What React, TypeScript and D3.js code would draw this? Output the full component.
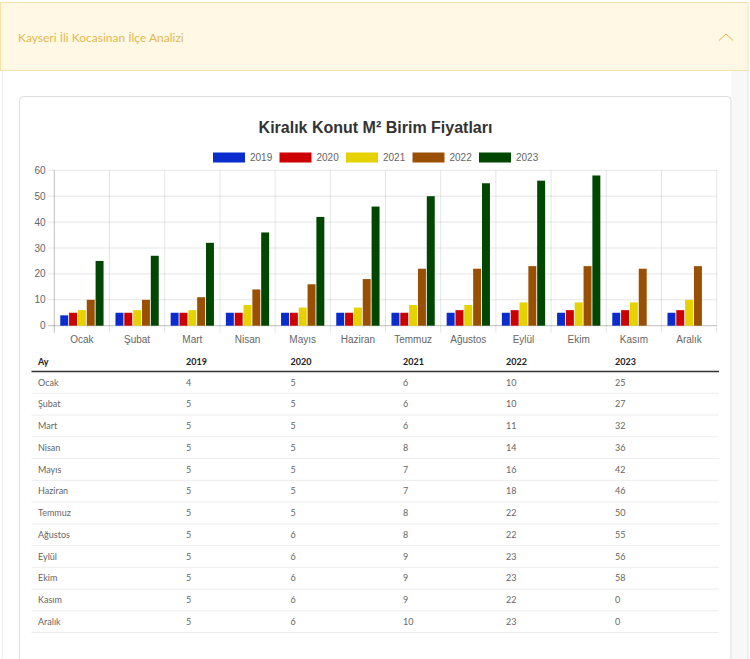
import React from "react";
import * as d3 from "d3";

const months = ["Ocak", "Şubat", "Mart", "Nisan", "Mayıs", "Haziran", "Temmuz", "Ağustos", "Eylül", "Ekim", "Kasım", "Aralık"];
const years = ["2019", "2020", "2021", "2022", "2023"];
const v2019 = [4, 5, 5, 5, 5, 5, 5, 5, 5, 5, 5, 5];
const v2020 = [5, 5, 5, 5, 5, 5, 5, 6, 6, 6, 6, 6];
const v2021 = [6, 6, 6, 8, 7, 7, 8, 8, 9, 9, 9, 10];
const v2022 = [10, 10, 11, 14, 16, 18, 22, 22, 23, 23, 22, 23];
const v2023 = [25, 27, 32, 36, 42, 46, 50, 55, 56, 58, 0, 0];
const yTicks = [0, 10, 20, 30, 40, 50, 60];
const colors = ["#0a2ccc", "#cc0000", "#e6d200", "#9a5004", "#014701"];

const series = [v2019, v2020, v2021, v2022, v2023];

const W = 750, H = 659;
const plot = { left: 54.3, right: 716.7, top: 170.3, bottom: 325.7 };
const tableCols = [38, 186, 290.5, 403, 506, 615];

export default function App() {
  const x = d3.scaleBand<string>().domain(months).range([plot.left, plot.right]).padding(0);
  const y = d3.scaleLinear().domain([0, 60]).range([plot.bottom, plot.top]);
  const cw = x.bandwidth();
  const sub = d3.scaleBand<string>().domain(years).range([cw * 0.1, cw * 0.9]).padding(0);
  const slot = sub.bandwidth();
  const bw = slot * 0.9;

  const rowY0 = 382.3;
  const rowStep = 21.75;
  const tableFont = "Lato, 'DejaVu Sans', sans-serif";
  const chartFont = "'Liberation Sans', Arial, sans-serif";
  const gridColor = "rgba(0,0,0,0.1)";

  const legendX = [213, 279.5, 346, 412.5, 479];

  return (
    <svg width={W} height={H} style={{ position: "absolute", left: 0, top: 0, background: "#fff" }}>
      {/* outer side strips */}
      <rect x={731.5} y={70} width={16.5} height={H - 70} fill="#f8f8f8" />
      <line x1={748} x2={748} y1={70} y2={H} stroke="#e6e6e6" />
      <line x1={2.5} x2={2.5} y1={70} y2={H} stroke="#ececec" />
      {/* header */}
      <rect x={0.5} y={2.5} width={747.5} height={68} fill="#fff8e5" stroke="#f6e2a8" />
      <text x={18} y={41.5} fontFamily={tableFont} fontSize={12} fill="#e4b94f">Kayseri İli Kocasinan İlçe Analizi</text>
      <polyline points="719,40.5 726,34 733,40.5" fill="none" stroke="#e2b548" strokeWidth={1} />
      {/* card */}
      <rect x={19.5} y={96.5} width={711.5} height={600} rx={4} fill="#fff" stroke="#dedede" />

      {/* chart title */}
      <text x={375.5} y={132.5} textAnchor="middle" fontFamily={chartFont} fontWeight="bold" fontSize={16} fill="#333">Kiralık Konut M² Birim Fiyatları</text>

      {/* legend */}
      {years.map((yr, i) => (
        <g key={yr}>
          <rect x={legendX[i]} y={152.5} width={32} height={10} fill={colors[i]} />
          <text x={legendX[i] + 37} y={161} fontFamily={chartFont} fontSize={10} fill="#666">{yr}</text>
        </g>
      ))}

      {/* horizontal grid */}
      {yTicks.map((t) => (
        <g key={t}>
          <line x1={plot.left - 6} x2={plot.right} y1={y(t)} y2={y(t)} stroke={t === 0 ? "rgba(0,0,0,0.25)" : gridColor} />
          <text x={45.5} y={y(t) + 3.5} textAnchor="end" fontFamily={chartFont} fontSize={10} fill="#666">{t}</text>
        </g>
      ))}
      {/* vertical grid */}
      {months.map((m, i) => (
        <line key={m} x1={x(m)!} x2={x(m)!} y1={plot.top} y2={plot.bottom + 7} stroke={i === 0 ? "rgba(0,0,0,0.25)" : gridColor} />
      ))}
      <line x1={plot.right} x2={plot.right} y1={plot.top} y2={plot.bottom + 7} stroke={gridColor} />

      {/* bars */}
      {months.map((m, mi) => (
        <g key={m}>
          {series.map((s, si) => {
            const v = s[mi];
            if (!v) return null;
            const bx = x(m)! + sub(years[si])! + (slot - bw) / 2;
            return <rect key={si} x={bx} y={y(v)} width={bw} height={y(0) - y(v)} fill={colors[si]} />;
          })}
          <text x={x(m)! + cw / 2} y={342.5} textAnchor="middle" fontFamily={chartFont} fontSize={10} fill="#666">{m}</text>
        </g>
      ))}

      {/* table header */}
      {["Ay", ...years].map((h, i) => (
        <text key={h} x={tableCols[i]} y={364.5} fontFamily={tableFont} fontWeight="bold" fontSize={9} fill="#222">{h}</text>
      ))}
      <line x1={31.5} x2={719} y1={371.5} y2={371.5} stroke="#333" strokeWidth={1.3} />
      {months.map((m, i) => {
        const cy = rowY0 + rowStep * i;
        const vals = series.map((s) => s[i]);
        return (
          <g key={m}>
            <text x={tableCols[0]} y={cy + 3.2} fontFamily={tableFont} fontSize={9} fill="#666">{m}</text>
            {vals.map((v, j) => (
              <text key={j} x={tableCols[j + 1]} y={cy + 3.2} fontFamily={tableFont} fontSize={9} fill="#666">{v}</text>
            ))}
            <line x1={31.5} x2={719} y1={cy + 11} y2={cy + 11} stroke="#ededed" />
          </g>
        );
      })}
    </svg>
  );
}
